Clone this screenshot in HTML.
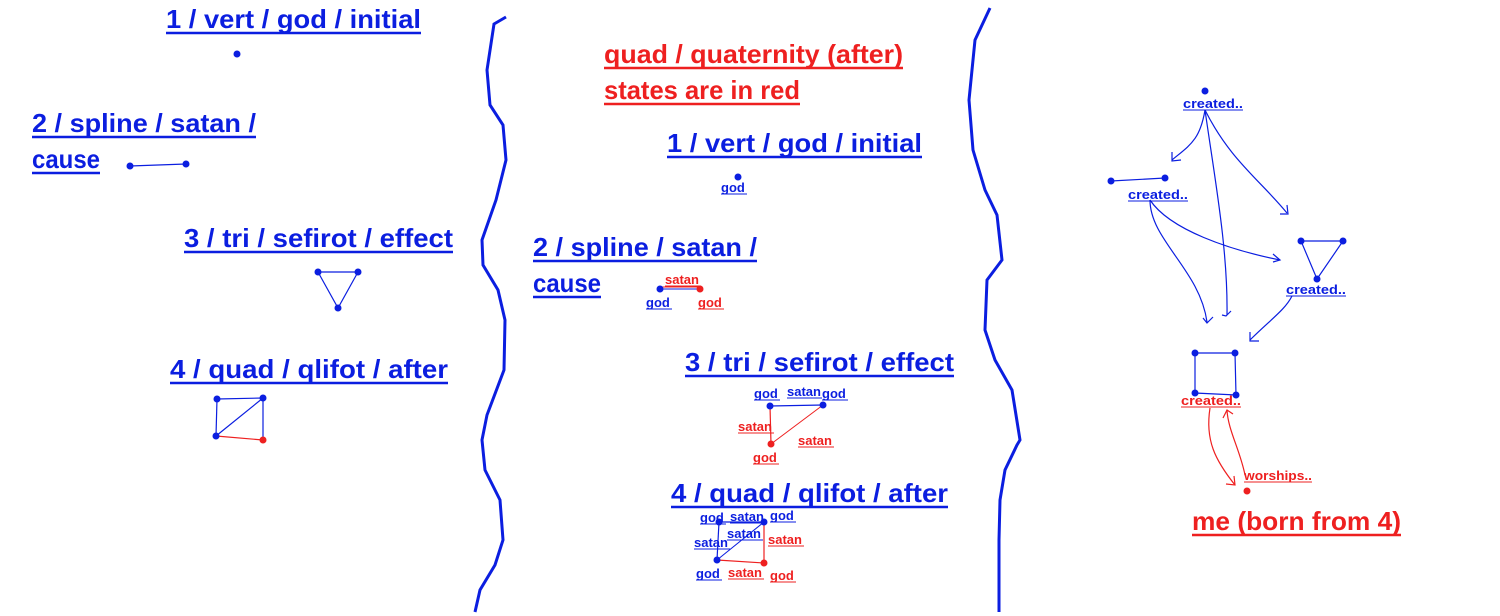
<!DOCTYPE html>
<html><head><meta charset="utf-8"><style>
html,body{margin:0;padding:0;background:#fff;width:1500px;height:616px;overflow:hidden}
text{font-family:"Liberation Sans",sans-serif;font-weight:bold}
.b{fill:#0b1ee0}.r{fill:#ee2020}
.H{font-size:26px}.s{font-size:13px}
</style></head><body>
<svg width="1500" height="616" xmlns="http://www.w3.org/2000/svg">
<path d="M506,17 L494,24 L487,70 L490,105 L503,125 L506,160 L496,200 L482,240 L483,265 L498,290 L505,320 L504,370 L487,415 L482,440 L485,470 L500,500 L503,540 L495,565 L480,590 L475,612" fill="none" stroke="#0b1ee0" stroke-width="3"/>
<path d="M990,8 L975,40 L969,100 L973,150 L985,190 L997,215 L1002,260 L987,280 L985,330 L995,360 L1012,390 L1020,440 L1017,445 L1005,470 L1000,500 L999,540 L999,612" fill="none" stroke="#0b1ee0" stroke-width="3"/>

<g>
<text class="H b" x="166" y="28" textLength="255" lengthAdjust="spacingAndGlyphs">1 / vert / god / initial</text>
<text class="H b" x="32" y="132" textLength="224" lengthAdjust="spacingAndGlyphs">2 / spline / satan /</text>
<text class="H b" x="32" y="168" textLength="68" lengthAdjust="spacingAndGlyphs">cause</text>
<text class="H b" x="184" y="247" textLength="269" lengthAdjust="spacingAndGlyphs">3 / tri / sefirot / effect</text>
<text class="H b" x="170" y="378" textLength="278" lengthAdjust="spacingAndGlyphs">4 / quad / qlifot / after</text>
<text class="H r" x="604" y="63" textLength="299" lengthAdjust="spacingAndGlyphs">quad / quaternity (after)</text>
<text class="H r" x="604" y="99" textLength="196" lengthAdjust="spacingAndGlyphs">states are in red</text>
<text class="H b" x="667" y="152" textLength="255" lengthAdjust="spacingAndGlyphs">1 / vert / god / initial</text>
<text class="H b" x="533" y="256" textLength="224" lengthAdjust="spacingAndGlyphs">2 / spline / satan /</text>
<text class="H b" x="533" y="292" textLength="68" lengthAdjust="spacingAndGlyphs">cause</text>
<text class="H b" x="685" y="371" textLength="269" lengthAdjust="spacingAndGlyphs">3 / tri / sefirot / effect</text>
<text class="H b" x="671" y="502" textLength="277" lengthAdjust="spacingAndGlyphs">4 / quad / qlifot / after</text>
<text class="H r" x="1192" y="530" textLength="209" lengthAdjust="spacingAndGlyphs">me (born from 4)</text>
</g>
<g stroke-width="2.5">
<line x1="166" y1="33" x2="421" y2="33" stroke="#0b1ee0"/>
<line x1="32" y1="137" x2="256" y2="137" stroke="#0b1ee0"/>
<line x1="32" y1="173" x2="100" y2="173" stroke="#0b1ee0"/>
<line x1="184" y1="252" x2="453" y2="252" stroke="#0b1ee0"/>
<line x1="170" y1="383" x2="448" y2="383" stroke="#0b1ee0"/>
<line x1="604" y1="68" x2="903" y2="68" stroke="#ee2020"/>
<line x1="604" y1="104" x2="800" y2="104" stroke="#ee2020"/>
<line x1="667" y1="157" x2="922" y2="157" stroke="#0b1ee0"/>
<line x1="533" y1="261" x2="757" y2="261" stroke="#0b1ee0"/>
<line x1="533" y1="297" x2="601" y2="297" stroke="#0b1ee0"/>
<line x1="685" y1="376" x2="954" y2="376" stroke="#0b1ee0"/>
<line x1="671" y1="507" x2="948" y2="507" stroke="#0b1ee0"/>
<line x1="1192" y1="535" x2="1401" y2="535" stroke="#ee2020"/>
</g>

<g stroke="#0b1ee0" stroke-width="1.2" fill="none">
<line x1="130" y1="166" x2="186" y2="164"/>
<polygon points="318,272 358,272 338,308"/>
<line x1="217" y1="399" x2="263" y2="398"/>
<line x1="217" y1="399" x2="216" y2="436"/>
<line x1="216" y1="436" x2="263" y2="398"/>
<line x1="263" y1="398" x2="263" y2="440"/>
</g>
<line x1="216" y1="436" x2="263" y2="440" stroke="#ee2020" stroke-width="1.2"/>
<g fill="#0b1ee0">
<circle cx="237" cy="54" r="3.5"/><circle cx="130" cy="166" r="3.5"/><circle cx="186" cy="164" r="3.5"/>
<circle cx="318" cy="272" r="3.5"/><circle cx="358" cy="272" r="3.5"/><circle cx="338" cy="308" r="3.5"/>
<circle cx="217" cy="399" r="3.5"/><circle cx="263" cy="398" r="3.5"/><circle cx="216" cy="436" r="3.5"/>
</g>
<circle cx="263" cy="440" r="3.5" fill="#ee2020"/>

<g>
<circle cx="738" cy="177" r="3.5" fill="#0b1ee0"/>
<text class="s b" x="721" y="192">god</text>
<line x1="660" y1="289" x2="700" y2="289" stroke="#0b1ee0" stroke-width="1"/>
<line x1="660" y1="287" x2="700" y2="287" stroke="#ee2020" stroke-width="1"/>
<circle cx="660" cy="289" r="3.5" fill="#0b1ee0"/><circle cx="700" cy="289" r="3.5" fill="#ee2020"/>
<text class="s r" x="665" y="284">satan</text>
<text class="s b" x="646" y="307">god</text>
<text class="s r" x="698" y="307">god</text>

<line x1="770" y1="406" x2="823" y2="405" stroke="#0b1ee0" stroke-width="1.2"/>
<line x1="770" y1="406" x2="771" y2="444" stroke="#ee2020" stroke-width="1.2"/>
<line x1="771" y1="444" x2="823" y2="405" stroke="#ee2020" stroke-width="1"/>
<circle cx="770" cy="406" r="3.5" fill="#0b1ee0"/><circle cx="823" cy="405" r="3.5" fill="#0b1ee0"/><circle cx="771" cy="444" r="3.5" fill="#ee2020"/>
<text class="s b" x="754" y="398">god</text>
<text class="s b" x="787" y="396">satan</text>
<text class="s b" x="822" y="398">god</text>
<text class="s r" x="738" y="431">satan</text>
<text class="s r" x="798" y="445">satan</text>
<text class="s r" x="753" y="462">god</text>

<line x1="719" y1="522" x2="764" y2="522" stroke="#0b1ee0" stroke-width="1.2"/>
<line x1="719" y1="522" x2="717" y2="560" stroke="#0b1ee0" stroke-width="1.2"/>
<line x1="717" y1="560" x2="764" y2="522" stroke="#0b1ee0" stroke-width="1"/>
<line x1="764" y1="522" x2="764" y2="563" stroke="#ee2020" stroke-width="1.2"/>
<line x1="717" y1="560" x2="764" y2="563" stroke="#ee2020" stroke-width="1.2"/>
<circle cx="719" cy="522" r="3.5" fill="#0b1ee0"/><circle cx="764" cy="522" r="3.5" fill="#0b1ee0"/><circle cx="717" cy="560" r="3.5" fill="#0b1ee0"/><circle cx="764" cy="563" r="3.5" fill="#ee2020"/>
<text class="s b" x="700" y="522">god</text>
<text class="s b" x="730" y="521">satan</text>
<text class="s b" x="770" y="520">god</text>
<text class="s b" x="727" y="538">satan</text>
<text class="s b" x="694" y="547">satan</text>
<text class="s r" x="768" y="544">satan</text>
<text class="s b" x="696" y="578">god</text>
<text class="s r" x="728" y="577">satan</text>
<text class="s r" x="770" y="580">god</text>
</g>
<g stroke-width="1">
<line x1="721" y1="194" x2="747" y2="194" stroke="#0b1ee0"/>
<line x1="665" y1="286" x2="701" y2="286" stroke="#ee2020"/>
<line x1="646" y1="309" x2="672" y2="309" stroke="#0b1ee0"/>
<line x1="698" y1="309" x2="724" y2="309" stroke="#ee2020"/>
<line x1="754" y1="400" x2="780" y2="400" stroke="#0b1ee0"/>
<line x1="787" y1="398" x2="822" y2="398" stroke="#0b1ee0"/>
<line x1="822" y1="400" x2="848" y2="400" stroke="#0b1ee0"/>
<line x1="738" y1="433" x2="774" y2="433" stroke="#ee2020"/>
<line x1="798" y1="447" x2="834" y2="447" stroke="#ee2020"/>
<line x1="753" y1="464" x2="779" y2="464" stroke="#ee2020"/>
<line x1="700" y1="524" x2="726" y2="524" stroke="#0b1ee0"/>
<line x1="730" y1="523" x2="766" y2="523" stroke="#0b1ee0"/>
<line x1="770" y1="522" x2="796" y2="522" stroke="#0b1ee0"/>
<line x1="727" y1="540" x2="763" y2="540" stroke="#0b1ee0"/>
<line x1="694" y1="549" x2="730" y2="549" stroke="#0b1ee0"/>
<line x1="768" y1="546" x2="804" y2="546" stroke="#ee2020"/>
<line x1="696" y1="580" x2="722" y2="580" stroke="#0b1ee0"/>
<line x1="728" y1="579" x2="764" y2="579" stroke="#ee2020"/>
<line x1="770" y1="582" x2="796" y2="582" stroke="#ee2020"/>
</g>

<g stroke="#0b1ee0" stroke-width="1.2" fill="none">
<line x1="1111" y1="181" x2="1165" y2="178"/>
<polygon points="1301,241 1343,241 1317,279"/>
<polygon points="1195,353 1235,353 1236,395 1195,393"/>
<path d="M1205,110 C1200,140 1190,145 1172,160"/><path d="M1172,152 L1172,161 L1181,160"/>
<path d="M1205,110 C1230,160 1260,180 1287,213"/><path d="M1287,205 L1288,214 L1280,214"/>
<path d="M1205,110 C1215,180 1228,250 1227,315"/><path d="M1222,315 L1226,316 L1231,311"/>
<path d="M1150,200 C1170,230 1230,250 1280,260"/><path d="M1273,254 L1280,260 L1273,262"/>
<path d="M1150,200 C1150,240 1200,270 1207,322"/><path d="M1203,318 L1207,323 L1213,317"/>
<path d="M1292,296 C1285,310 1270,320 1250,340"/><path d="M1250,332 L1250,341 L1259,341"/>
</g>
<g stroke="#ee2020" stroke-width="1.2" fill="none">
<path d="M1210,408 C1205,440 1215,460 1235,485"/><path d="M1226,484 L1235,485 L1234,476"/>
<path d="M1245,475 C1240,450 1228,430 1227,410"/><path d="M1223,418 L1227,410 L1233,414"/>
</g>
<g fill="#0b1ee0">
<circle cx="1205" cy="91" r="3.5"/><circle cx="1111" cy="181" r="3.5"/><circle cx="1165" cy="178" r="3.5"/>
<circle cx="1301" cy="241" r="3.5"/><circle cx="1343" cy="241" r="3.5"/><circle cx="1317" cy="279" r="3.5"/>
<circle cx="1195" cy="353" r="3.5"/><circle cx="1235" cy="353" r="3.5"/><circle cx="1195" cy="393" r="3.5"/><circle cx="1236" cy="395" r="3.5"/>
</g>
<circle cx="1247" cy="491" r="3.5" fill="#ee2020"/>
<text class="s b" x="1183" y="108" textLength="60" lengthAdjust="spacingAndGlyphs">created..</text>
<text class="s b" x="1128" y="199" textLength="60" lengthAdjust="spacingAndGlyphs">created..</text>
<text class="s b" x="1286" y="294" textLength="60" lengthAdjust="spacingAndGlyphs">created..</text>
<text class="s r" x="1181" y="405" textLength="60" lengthAdjust="spacingAndGlyphs">created..</text>
<text class="s r" x="1244" y="480" textLength="68" lengthAdjust="spacingAndGlyphs">worships..</text>
<g stroke-width="1">
<line x1="1183" y1="110" x2="1243" y2="110" stroke="#0b1ee0"/>
<line x1="1128" y1="201" x2="1188" y2="201" stroke="#0b1ee0"/>
<line x1="1286" y1="296" x2="1346" y2="296" stroke="#0b1ee0"/>
<line x1="1181" y1="407" x2="1241" y2="407" stroke="#ee2020"/>
<line x1="1244" y1="482" x2="1312" y2="482" stroke="#ee2020"/>
</g>
</svg>
</body></html>
